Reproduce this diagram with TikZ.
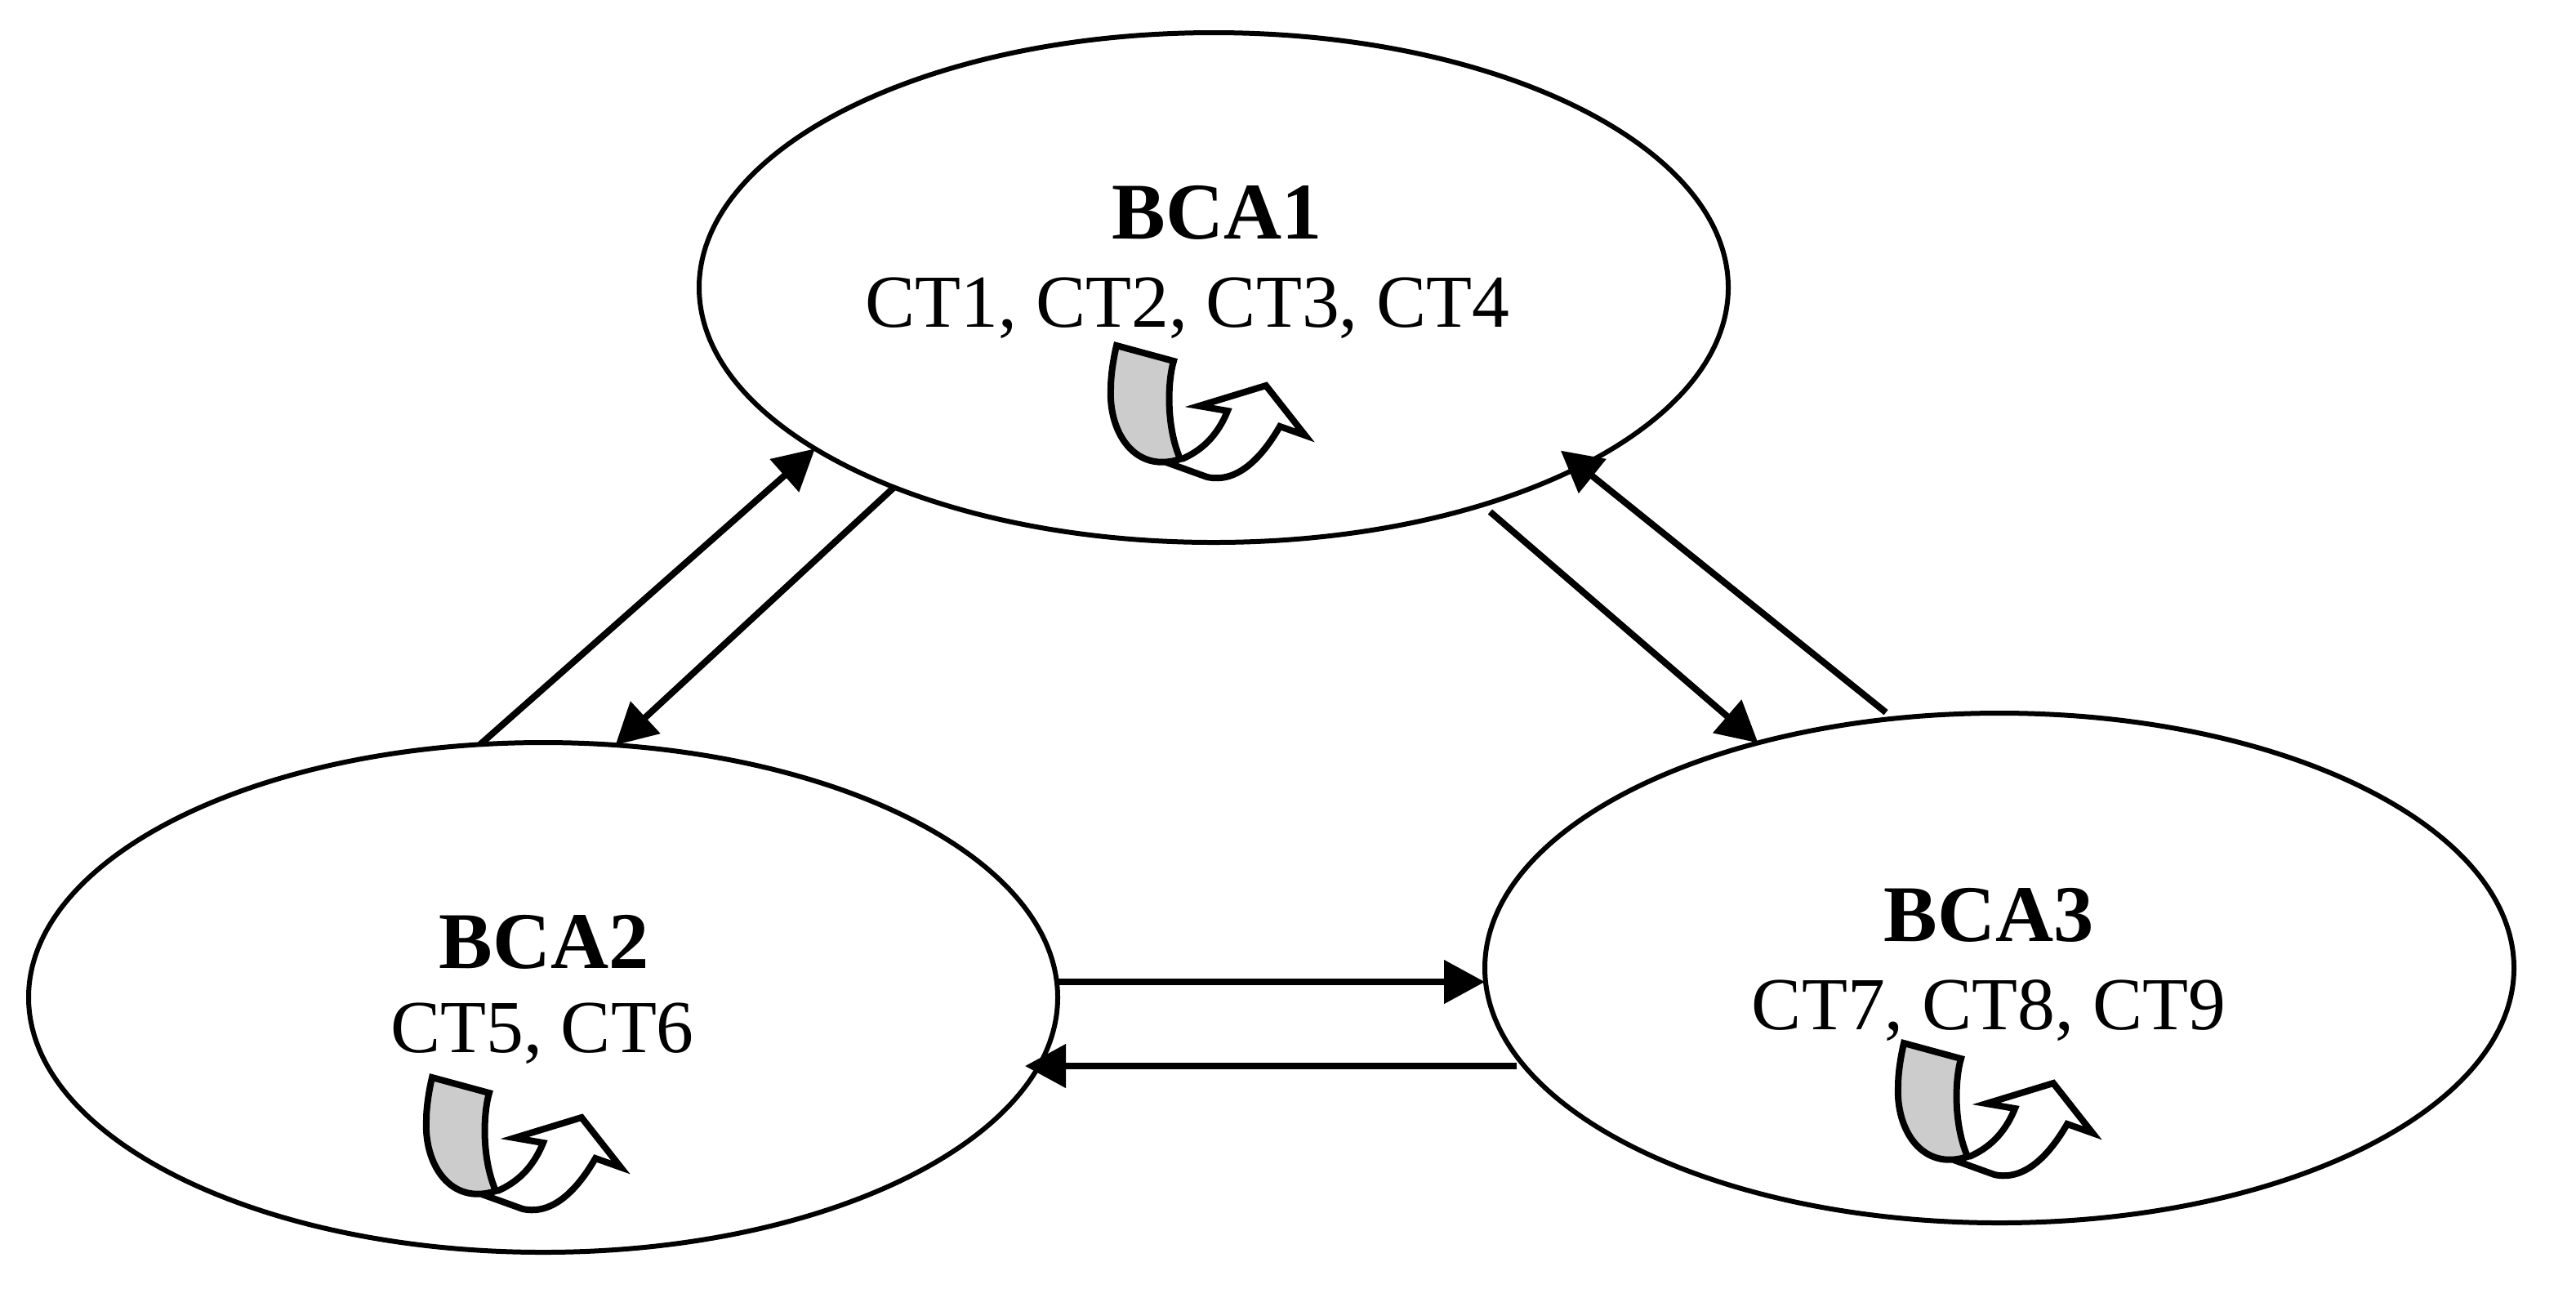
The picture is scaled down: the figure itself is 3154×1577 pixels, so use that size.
\documentclass[tikz,border=0pt]{standalone}
\usepackage{fontspec}
\setmainfont{Liberation Serif}
\usetikzlibrary{shapes.geometric,arrows.meta}
\tikzset{
  bca/.style={ellipse,draw=black,line width=1.5pt,minimum width=315pt,minimum height=156pt,inner sep=0pt,outer sep=0pt},
  title/.style={anchor=base,inner sep=0pt,font=\fontsize{24.6pt}{26pt}\selectfont\bfseries},
  members/.style={anchor=base,inner sep=0pt,font=\fontsize{22.9pt}{26pt}\selectfont},
  link/.style={line width=2pt,-{Triangle[length=12.5pt,width=13pt]}},
  bcaicon/.pic={
    \draw[line width=2pt,line join=miter,miter limit=10]
      (128,186) -- (178,204) .. controls (215,212) and (245,180) .. (267,142)
      -- (298,153) -- (250,92) -- (168,117) -- (203,123)
      .. controls (190,155) and (170,172) .. (147,182);
    \draw[line width=2pt,fill=black!20,line join=miter]
      (67,43) -- (137,62) .. controls (130,85) and (127,140) .. (145,182)
      .. controls (90,200) and (57,150) .. (60,95) .. controls (60,80) and (63,60) .. (67,43) -- cycle;
  }
}
\begin{document}
\begin{tikzpicture}[x=0.25pt,y=-0.25pt]
\useasboundingbox (0,0) rectangle (3154,1577);
\node[bca] (BCA1) at (1486,352) {};
\node[bca] (BCA2) at (665,1221) {};
\node[bca] (BCA3) at (2448,1185) {};
\node[title] (t1) at (1490,292) {BCA1};
\node[members] (m1) at (1454,400) {CT1, CT2, CT3, CT4};
\node[title] (t2) at (666,1185) {BCA2};
\node[members] (m2) at (664,1288) {CT5, CT6};
\node[title] (t3) at (2435,1152) {BCA3};
\node[members] (m3) at (2435,1260) {CT7, CT8, CT9};
\pic at (1300,380) {bcaicon};
\pic at (462,1276) {bcaicon};
\pic at (2264,1234) {bcaicon};
\draw[link] (BCA2.104.8) -- (BCA1.202.8);
\draw[link] (BCA1.212.07) -- (BCA2.74);
\draw[link,shorten <=3.2pt] (BCA1.321.8) -- (BCA3.137);
\draw[link,shorten <=3pt,shorten >=-7.7pt] (BCA3.113.7) -- (BCA1.334.2);
\draw[link] ([yshift=4.75pt]BCA2.east) -- ([yshift=-4.25pt]BCA3.west);
\draw[link] ([xshift=9.75pt,yshift=-30pt]BCA3.west) -- ([xshift=-10pt,yshift=-21pt]BCA2.east);
\end{tikzpicture}
\end{document}
